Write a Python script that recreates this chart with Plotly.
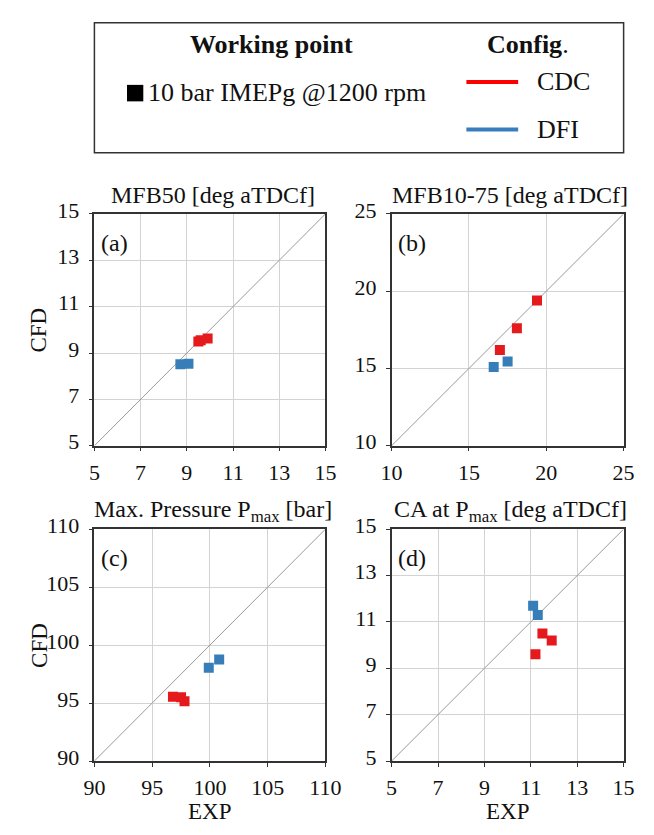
import plotly.graph_objects as go

W, H = 654, 835
FONT = "Liberation Serif"
RED = "#E41A1C"
BLUE = "#377EB8"

# ---- data ----
titles = ["MFB50 [deg aTDCf]", "MFB10-75 [deg aTDCf]",
          "Max. Pressure P<sub>max</sub> [bar]", "CA at P<sub>max</sub> [deg aTDCf]"]
labels = ["(a)", "(b)", "(c)", "(d)"]
ranges = [[5, 15], [10, 25], [90, 110], [5, 15]]
ticks = [[5, 7, 9, 11, 13, 15], [10, 15, 20, 25], [90, 95, 100, 105, 110], [5, 7, 9, 11, 13, 15]]

cdc_exp = [[9.5, 9.6, 9.9], [19.4, 18.1, 17.0], [96.8, 97.5, 97.8], [11.5, 11.9, 11.2]]
cdc_cfd = [[9.5, 9.55, 9.62], [19.4, 17.6, 16.2], [95.55, 95.5, 95.15], [10.5, 10.2, 9.6]]
dfi_exp = [[8.72, 9.07], [16.6, 17.5], [99.9, 100.8], [11.1, 11.3]]
dfi_cfd = [[8.51, 8.54], [15.1, 15.45], [98.05, 98.75], [11.7, 11.3]]

# ---- layout geometry (pixels) ----
xdoms_px = [(87, 328), (397, 639)]
ydoms_px = [(204, 443), (529, 768)]

def px_x(x): return x / W
def px_y(y): return 1 - y / H

fig = go.Figure()
annotations = []
shapes = []

for i in range(4):
    r, c = divmod(i, 2)
    n = i + 1
    xa = "x" if n == 1 else f"x{n}"
    ya = "y" if n == 1 else f"y{n}"
    lo, hi = ranges[i]
    fig.add_trace(go.Scatter(x=[lo, hi], y=[lo, hi], mode="lines",
                             line=dict(color="#9a9a9a", width=1),
                             xaxis=xa, yaxis=ya, showlegend=False, hoverinfo="skip"))
    fig.add_trace(go.Scatter(x=cdc_exp[i], y=cdc_cfd[i], mode="markers",
                             marker=dict(symbol="square", size=10, color=RED,
                                         line=dict(width=0)),
                             xaxis=xa, yaxis=ya, showlegend=False))
    fig.add_trace(go.Scatter(x=dfi_exp[i], y=dfi_cfd[i], mode="markers",
                             marker=dict(symbol="square", size=10, color=BLUE,
                                         line=dict(width=0)),
                             xaxis=xa, yaxis=ya, showlegend=False))
    x0, x1 = xdoms_px[c]
    y0, y1 = ydoms_px[r]
    axis_common = dict(range=[lo, hi], tickvals=ticks[i], showgrid=True,
                       gridcolor="#d3d3d3", gridwidth=1, showline=True,
                       linecolor="#333333", linewidth=1.5, mirror=True,
                       ticks="outside", ticklen=4, tickcolor="#333333",
                       tickfont=dict(family=FONT, size=22, color="#111"),
                       zeroline=False, fixedrange=True)
    fig.update_layout(**{
        ("xaxis" if n == 1 else f"xaxis{n}"): dict(domain=[px_x(x0), px_x(x1)],
                                                  anchor=ya, ticklabelstandoff=2,
                                                  **axis_common),
        ("yaxis" if n == 1 else f"yaxis{n}"): dict(domain=[px_y(y1), px_y(y0)],
                                                  anchor=xa, ticklabelstandoff=5,
                                                  ticklabelshift=-4, **axis_common),
    })
    # subplot title
    annotations.append(dict(text=titles[i], x=px_x((x0 + x1) / 2 + 3), y=px_y(y0 - 19),
                            xref="paper", yref="paper", showarrow=False,
                            font=dict(family=FONT, size=24, color="#111"),
                            xanchor="center", yanchor="middle"))
    # panel label
    annotations.append(dict(text=labels[i], x=px_x(x0 + 5), y=px_y(y0 + 30),
                            xref="paper", yref="paper", showarrow=False,
                            font=dict(family=FONT, size=24, color="#111"),
                            xanchor="left", yanchor="middle"))
    if c == 0:
        annotations.append(dict(text="CFD", x=px_x(29), y=px_y((y0 + y1) / 2),
                                xref="paper", yref="paper", showarrow=False, textangle=-90,
                                font=dict(family=FONT, size=23, color="#111"),
                                xanchor="center", yanchor="middle"))
    if r == 1:
        annotations.append(dict(text="EXP", x=px_x((x0 + x1) / 2), y=px_y(820),
                                xref="paper", yref="paper", showarrow=False,
                                font=dict(family=FONT, size=23, color="#111"),
                                xanchor="center", yanchor="middle"))

# ---- legend box ----
shapes.append(dict(type="rect", xref="paper", yref="paper",
                   x0=px_x(87), x1=px_x(639), y0=px_y(141), y1=px_y(7),
                   line=dict(color="#333333", width=1.5), fillcolor="rgba(0,0,0,0)"))
shapes.append(dict(type="rect", xref="paper", yref="paper",
                   x0=px_x(121), x1=px_x(138), y0=px_y(88), y1=px_y(71),
                   line=dict(width=0), fillcolor="black"))
shapes.append(dict(type="line", xref="paper", yref="paper",
                   x0=px_x(475), x1=px_x(529), y0=px_y(68), y1=px_y(68),
                   line=dict(color="#FF0000", width=4)))
shapes.append(dict(type="line", xref="paper", yref="paper",
                   x0=px_x(475), x1=px_x(529), y0=px_y(117), y1=px_y(117),
                   line=dict(color="#3A7DBF", width=4)))
legend_texts = [
    ("<b>Working point</b>", 272, 29, "center", 26),
    ("<b>Config</b>.", 539, 29, "center", 26),
    ("10 bar IMEPg @1200 rpm", 141, 79, "left", 26),
    ("CDC", 547, 68, "left", 26),
    ("DFI", 547, 117, "left", 26),
]
for t, x, y, anc, s in legend_texts:
    annotations.append(dict(text=t, x=px_x(x), y=px_y(y), xref="paper", yref="paper",
                            showarrow=False, xanchor=anc, yanchor="middle",
                            font=dict(family=FONT, size=s, color="#111")))

fig.update_layout(width=W, height=H, margin=dict(l=0, r=0, t=0, b=0),
                  paper_bgcolor="white", plot_bgcolor="white",
                  annotations=annotations, shapes=shapes, showlegend=False)

fig.write_html("out.html", config={"displayModeBar": False},
               post_script="document.body.style.margin='0';document.body.style.overflow='hidden';")
